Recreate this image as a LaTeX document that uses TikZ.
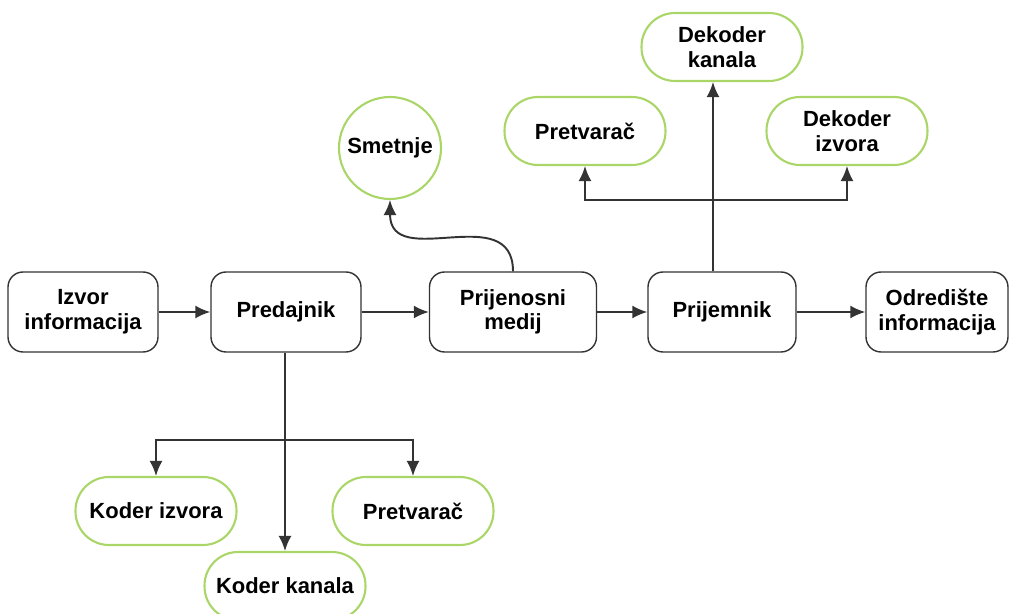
\documentclass[tikz,border=0pt]{standalone}
\usepackage{fontspec}
\setmainfont{Liberation Sans}
\usetikzlibrary{arrows.meta}

\definecolor{zelena}{RGB}{170,214,104}
\definecolor{linija}{RGB}{51,51,51}

\tikzset{
	blok/.style = {draw = black!80, line width = 0.8pt, rounded corners = 0.3cm,
		minimum width = 3cm, minimum height = 1.6cm, inner sep = 0pt,
		align = center, font = \fontsize{12.5}{14}\selectfont\bfseries},
	dodatak/.style = {draw = zelena, line width = 1.2pt, rounded corners = 0.67cm,
		minimum width = 3.22cm, minimum height = 1.36cm, inner sep = 0pt,
		align = center, font = \fontsize{12.5}{14}\selectfont\bfseries},
	veza/.style = {->, draw = linija, line width = 1.1pt}
}

\begin{document}
\begin{tikzpicture}[> = {Latex[length = 3mm, width = 2.6mm]}, x = 0.02cm, y = -0.02cm]

	\useasboundingbox (0, 0) rectangle (1009, 614);

	% Glavni lanac

	\node [blok] (izvor) at (83, 312) {Izvor\\informacija};
	\node [blok] (predajnik) at (286, 312) {Predajnik};
	\node [blok, minimum width = 3.34cm] (medij) at (513, 312) {Prijenosni\\medij};
	\node [blok, minimum width = 2.96cm] (prijemnik) at (722, 312) {Prijemnik};
	\node [blok, minimum width = 2.84cm] (odrediste) at (937, 312) {Odredište\\informacija};

	% Dijelovi predajnika i prijemnika

	\node [dodatak, rounded corners = 1.02cm, minimum width = 2.04cm, minimum height = 2.04cm] (smetnje) at (390, 148) {Smetnje};

	\node [dodatak] (pretvaracGore) at (585, 131) {Pretvarač};
	\node [dodatak] (dekoderKanala) at (722, 47) {Dekoder\\kanala};
	\node [dodatak] (dekoderIzvora) at (847, 131) {Dekoder\\izvora};

	\node [dodatak] (koderIzvora) at (156, 511) {Koder izvora};
	\node [dodatak] (pretvaracDolje) at (413, 511) {Pretvarač};
	\node [dodatak] (koderKanala) at (285, 586) {Koder kanala};

	% Strelice

	\begin{scope}[veza]

		\draw (izvor) -- (predajnik);
		\draw (predajnik) -- (medij);
		\draw (medij) -- (prijemnik);
		\draw (prijemnik) -- (odrediste);

		\draw (medij.north) to [out = 90, in = -90, looseness = 1.3] (smetnje.south);

	\end{scope}

	% Grananje dolje

	\coordinate (granaDolje) at (285, 440);

	\draw [veza] (predajnik.south -| granaDolje) -- (koderKanala.north -| granaDolje);
	\draw [veza] (granaDolje) -| (koderIzvora.north);
	\draw [veza] (granaDolje) -| (pretvaracDolje.north);

	% Grananje gore

	\coordinate (granaGore) at (713, 200);

	\draw [veza] (prijemnik.north -| granaGore) -- (dekoderKanala.south -| granaGore);
	\draw [veza] (granaGore) -| (pretvaracGore.south);
	\draw [veza] (granaGore) -| (dekoderIzvora.south);

\end{tikzpicture}
\end{document}
